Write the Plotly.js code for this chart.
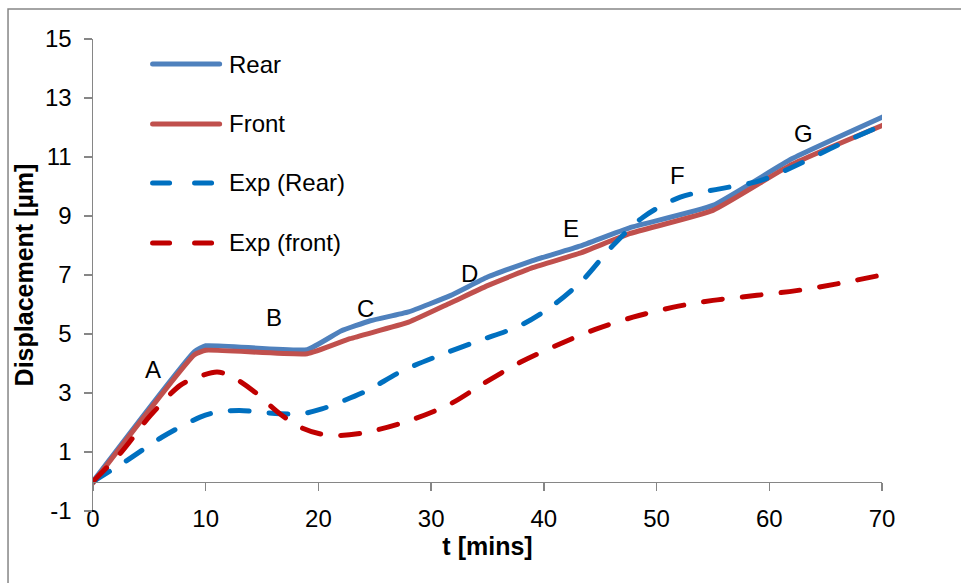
<!DOCTYPE html>
<html>
<head>
<meta charset="utf-8">
<script src="https://cdn.plot.ly/plotly-3.0.1.min.js"></script>
<style>
  html, body { margin: 0; padding: 0; background: #fff; }
  #chart { width: 961px; height: 583px; }
  #chart .scatterlayer path.js-line { stroke-linecap: round; }
  #chart .shapelayer path { stroke-linecap: round; }
</style>
</head>
<body>
<div id="chart"></div>
<script>
// ---- Data ----
const seriesNames = ['Rear', 'Front', 'Exp (Rear)', 'Exp (front)'];

const rearT = [0, 9, 10, 19, 22, 24.6, 28, 31.7, 35, 39, 43.2, 47.6, 55, 62, 70];
const rearV = [0, 4.4, 4.6, 4.47, 5.1, 5.45, 5.75, 6.3, 6.93, 7.49, 7.98, 8.6, 9.36, 10.94, 12.35];

const frontT = [0, 9, 10, 19, 22.8, 28, 31.7, 35, 39, 43.2, 47.6, 55, 62, 70];
const frontV = [-0.05, 4.3, 4.45, 4.33, 4.84, 5.4, 6.05, 6.64, 7.25, 7.74, 8.4, 9.19, 10.75, 12.07];

const expRearT = [0, 3, 6.1, 9.5, 11, 13, 14.8, 16.6, 18.4, 20.3, 21.9, 24.3, 27.5, 31.1, 34.3, 37.9, 40.8, 43.5, 46, 48.8, 52.1, 55.6, 59.2, 62.7, 66, 70];
const expRearV = [0, 0.71, 1.5, 2.18, 2.35, 2.41, 2.35, 2.3, 2.29, 2.46, 2.69, 3.08, 3.76, 4.33, 4.78, 5.29, 5.97, 6.85, 7.95, 8.96, 9.64, 9.92, 10.2, 10.77, 11.39, 12.07];

const expFrontT = [0, 2.5, 5.1, 7.7, 8.9, 11, 12.2, 14.2, 16.6, 18.4, 20.1, 21.9, 24.3, 28.1, 31.7, 34.6, 37.9, 41.1, 44.5, 47.9, 51.5, 55, 58.9, 62.4, 66, 70];
const expFrontV = [0, 0.99, 2.24, 3.25, 3.48, 3.71, 3.58, 3.08, 2.29, 1.84, 1.62, 1.56, 1.67, 2.07, 2.63, 3.31, 4.04, 4.61, 5.15, 5.57, 5.91, 6.14, 6.31, 6.47, 6.7, 7.0];

// point labels on the curves
const stageLabels = ['A', 'B', 'C', 'D', 'E', 'F', 'G'];
const stageT = [5.3, 16.1, 24.2, 33.4, 42.4, 51.9, 63.0];
const stageV = [3.8, 5.55, 5.85, 7.05, 8.57, 10.37, 11.8];

const xTickVals = [0, 10, 20, 30, 40, 50, 60, 70];
const xTickText = ['0', '10', '20', '30', '40', '50', '60', '70'];
const yTickVals = [-1, 1, 3, 5, 7, 9, 11, 13, 15];
const yTickText = ['-1', '1', '3', '5', '7', '9', '11', '13', '15'];

// ---- Styles ----
const FONT = 'Liberation Sans, Arial, sans-serif';
const colors = ['#4F81BD', '#C0504D', '#0070C0', '#C00000'];
const dashes = ['solid', 'solid', '19px,20px', '19px,20px'];
const AX = '#868686';

const xs = [rearT, frontT, expRearT, expFrontT];
const ys = [rearV, frontV, expRearV, expFrontV];

const traces = xs.map((x, i) => ({
  x: x, y: ys[i], name: seriesNames[i], type: 'scatter', mode: 'lines',
  line: { color: colors[i], width: 5, dash: dashes[i], shape: 'spline', smoothing: i < 2 ? 0.4 : 0.9 },
  showlegend: false, hoverinfo: 'x+y+name'
}));
// dummy trace to create the crossing x-axis (ticks at y = 0)
traces.push({ x: [null], y: [null], xaxis: 'x2', yaxis: 'y', showlegend: false, hoverinfo: 'skip', mode: 'lines' });

// ---- custom legend (long line samples like the original) ----
const legRowsY = [0.947, 0.820, 0.695, 0.568];
const shapes = [];
const annotations = [];
seriesNames.forEach((n, i) => {
  shapes.push({ type: 'line', xref: 'paper', yref: 'paper', x0: 0.0755, x1: 0.1605, y0: legRowsY[i], y1: legRowsY[i],
    line: { color: colors[i], width: 5, dash: i < 2 ? 'solid' : '17px,25px' } });
  annotations.push({ xref: 'paper', yref: 'paper', x: 0.170, y: legRowsY[i], xanchor: 'left', yanchor: 'middle',
    text: n, showarrow: false, font: { family: FONT, size: 24, color: '#000' } });
});
stageLabels.forEach((s, i) => {
  annotations.push({ x: stageT[i], y: stageV[i], xref: 'x', yref: 'y', text: s, showarrow: false,
    xanchor: 'center', yanchor: 'middle', font: { family: FONT, size: 24, color: '#000' } });
});
// outer chart frame (only top & left edges are in view)
shapes.push({ type: 'rect', xref: 'paper', yref: 'paper', x0: -0.1077, x1: 1.3, y0: -0.3, y1: 1.0636,
  line: { color: AX, width: 1.5 }, fillcolor: 'rgba(0,0,0,0)', layer: 'below' });

const layout = {
  width: 961, height: 583,
  margin: { l: 93, r: 79, t: 39, b: 72 },
  paper_bgcolor: '#fff', plot_bgcolor: '#fff',
  font: { family: FONT, size: 24, color: '#000' },
  showlegend: false,
  xaxis: {
    range: [0, 70], tickvals: xTickVals, ticktext: xTickText, showgrid: false, zeroline: false, showline: false,
    ticks: '', ticklabelstandoff: -9, tickfont: { family: FONT, size: 24, color: '#000' },
    title: { text: '<b>t [mins]</b>', font: { family: FONT, size: 25, color: '#000' }, standoff: 6 },
    automargin: false, fixedrange: true
  },
  xaxis2: {
    range: [0, 70], tickvals: xTickVals, overlaying: 'x', anchor: 'free', position: 1 / 16,
    showline: true, linecolor: AX, linewidth: 1.5, ticks: 'outside', ticklen: 8, tickwidth: 1.5, tickcolor: AX,
    showticklabels: false, showgrid: false, zeroline: false, fixedrange: true
  },
  yaxis: {
    range: [-1, 15], tickvals: yTickVals, ticktext: yTickText, showgrid: false, zeroline: false,
    showline: true, linecolor: AX, linewidth: 1.5, ticks: 'outside', ticklen: 8, tickwidth: 1.5, tickcolor: AX,
    ticklabelstandoff: 7, tickfont: { family: FONT, size: 24, color: '#000' },
    title: { text: '<b>Displacement [µm]</b>', font: { family: FONT, size: 25, color: '#000' }, standoff: 4 },
    automargin: false, fixedrange: true
  },
  shapes: shapes,
  annotations: annotations
};

Plotly.newPlot('chart', traces, layout, { displayModeBar: false, staticPlot: true });
</script>
</body>
</html>
